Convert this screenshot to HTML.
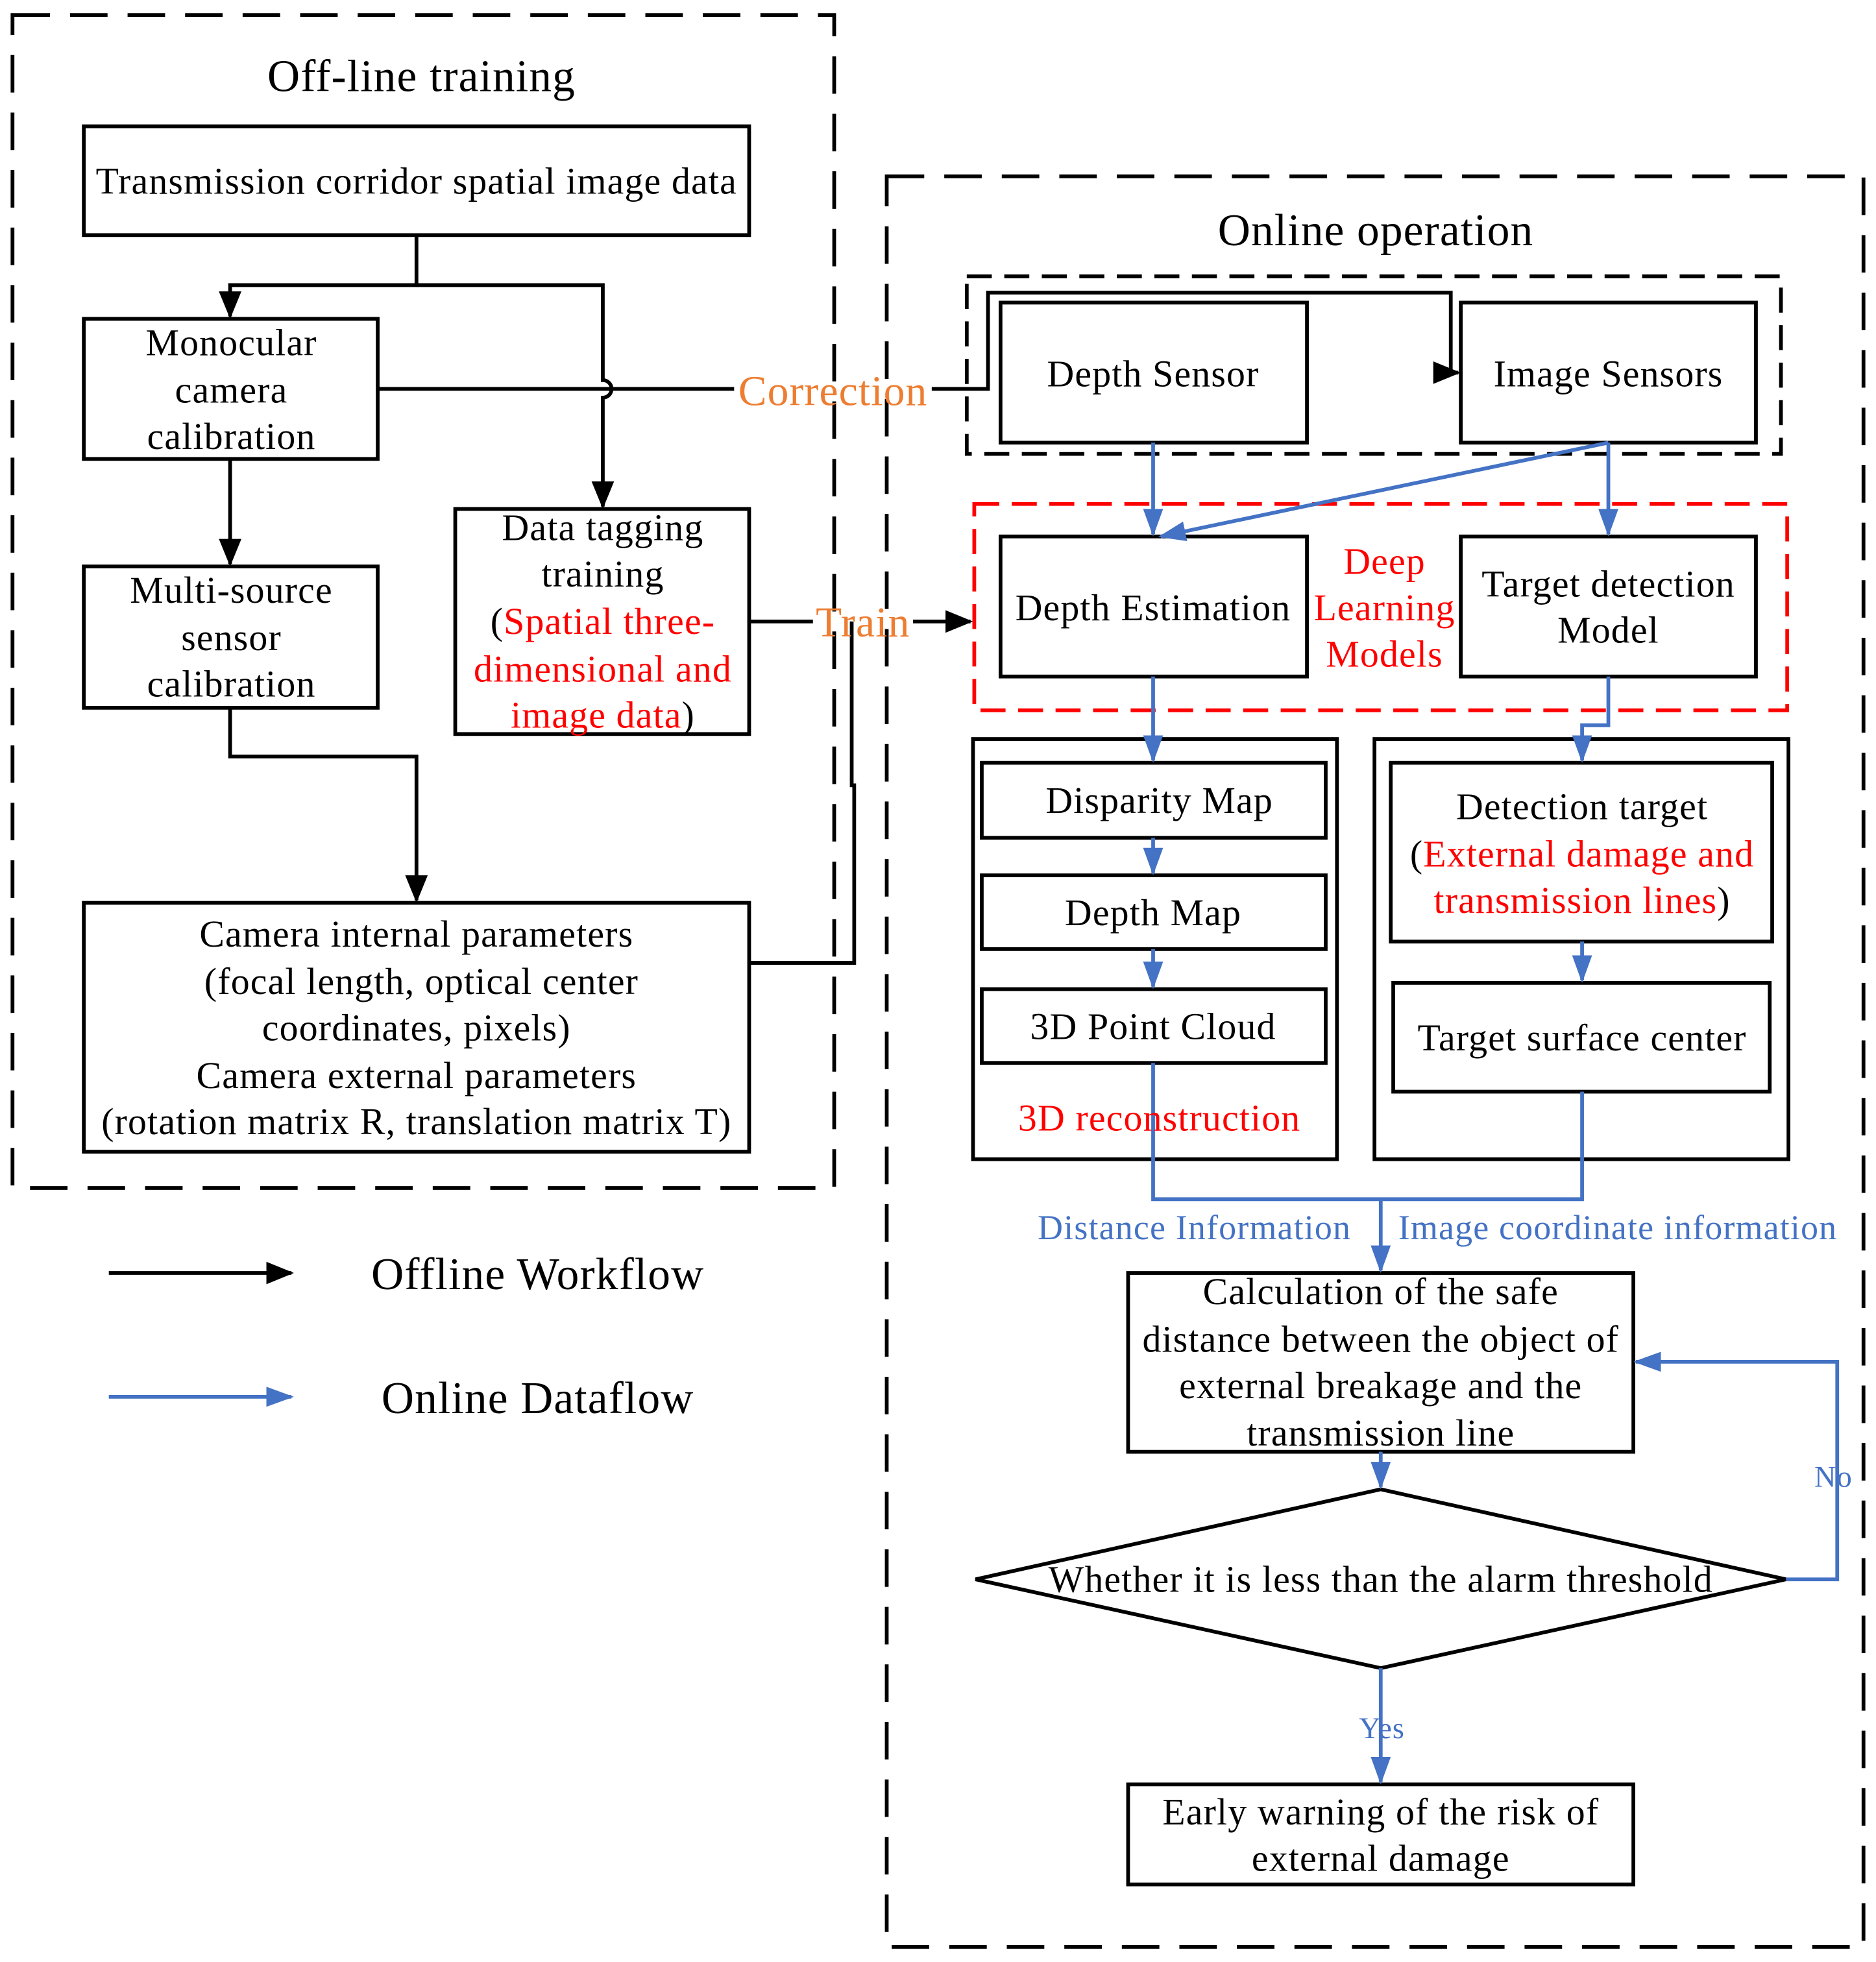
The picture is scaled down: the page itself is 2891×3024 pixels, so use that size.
<!DOCTYPE html>
<html><head><meta charset="utf-8"><style>html,body{margin:0;padding:0;background:#fff}svg{display:block}</style></head>
<body>
<svg width="2891" height="3024" viewBox="0 0 1500 1569" preserveAspectRatio="none" xmlns="http://www.w3.org/2000/svg" font-family="Liberation Serif, serif">
<defs>
<marker id="akb" markerWidth="22" markerHeight="22" refX="20" refY="11" orient="auto" markerUnits="userSpaceOnUse" viewBox="0 0 22 22"><path d="M0,2 L22,11 L0,20 z" fill="#000"/></marker>
<marker id="ab" markerWidth="22" markerHeight="22" refX="20" refY="11" orient="auto" markerUnits="userSpaceOnUse" viewBox="0 0 22 22"><path d="M0,3 L22,11 L0,19 z" fill="#4472C4"/></marker>
</defs>
<g fill="none" stroke="#000" stroke-width="3">
<rect x="10" y="12" width="657" height="938" stroke-dasharray="30,16"/>
<rect x="709" y="141" width="781" height="1416" stroke-dasharray="30,16"/>
<rect x="773" y="221" width="651" height="142" stroke-dasharray="20,10"/>
<rect x="779" y="403" width="650" height="165" stroke="#FF0000" stroke-dasharray="20,10"/>
<rect x="67" y="101" width="532" height="87"/>
<rect x="67" y="255" width="235" height="112"/>
<rect x="67" y="453" width="235" height="113"/>
<rect x="364" y="407" width="235" height="180"/>
<rect x="67" y="722" width="532" height="199"/>
<rect x="800" y="242" width="245" height="112"/>
<rect x="1168" y="242" width="236" height="112"/>
<rect x="800" y="429" width="245" height="112"/>
<rect x="1168" y="429" width="236" height="112"/>
<rect x="778" y="591" width="291" height="336"/>
<rect x="785" y="610" width="275" height="60"/>
<rect x="785" y="700" width="275" height="59"/>
<rect x="785" y="791" width="275" height="59"/>
<rect x="1099" y="591" width="331" height="336"/>
<rect x="1112" y="610" width="305" height="143"/>
<rect x="1114" y="786" width="301" height="87"/>
<rect x="902" y="1018" width="404" height="143"/>
<polygon points="780,1263 1104,1191 1428,1263 1104,1334"/>
<rect x="902" y="1427" width="404" height="80"/>
<path d="M333,188 V228 H184 V253" marker-end="url(#akb)"/>
<path d="M333,228 H482 V304 A7,7 0 0 1 482,318 V405" marker-end="url(#akb)"/>
<path d="M302,311 H587"/>
<path d="M745,311 H790 V234 H1160 V298 H1166" marker-end="url(#akb)"/>
<path d="M184,367 V451" marker-end="url(#akb)"/>
<path d="M184,566 V605 H333 V720" marker-end="url(#akb)"/>
<path d="M599,497 H650"/>
<path d="M730,497 H776" marker-end="url(#akb)"/>
<path d="M599,770 H683 V628 H681 V497"/>
<path d="M87,1018 H233" marker-end="url(#akb)"/>
</g>
<g fill="none" stroke="#4472C4" stroke-width="3">
<path d="M922,354 V427" marker-end="url(#ab)"/>
<path d="M1286,354 V427" marker-end="url(#ab)"/>
<path d="M1286,354 L928,429" marker-end="url(#ab)"/>
<path d="M922,541 V608" marker-end="url(#ab)"/>
<path d="M922,670 V698" marker-end="url(#ab)"/>
<path d="M922,759 V789" marker-end="url(#ab)"/>
<path d="M1286,541 V580 H1265 V608" marker-end="url(#ab)"/>
<path d="M1265,753 V784" marker-end="url(#ab)"/>
<path d="M922,850 V959 H1265 V873"/>
<path d="M1104,959 V1016" marker-end="url(#ab)"/>
<path d="M1104,1161 V1189" marker-end="url(#ab)"/>
<path d="M1428,1263 H1469 V1089 H1308" marker-end="url(#ab)"/>
<path d="M1104,1334 V1425" marker-end="url(#ab)"/>
<path d="M87,1117 H233" marker-end="url(#ab)"/>
</g>
<g font-size="30" text-anchor="middle" fill="#000" letter-spacing="0.6">
<text x="337" y="73" font-size="36">Off-line training</text>
<text x="1100" y="196" font-size="36">Online operation</text>
<text x="333" y="155">Transmission corridor spatial image data</text>
<text x="185" y="284">Monocular</text><text x="185" y="322">camera</text><text x="185" y="359">calibration</text>
<text x="185" y="482">Multi-source</text><text x="185" y="520">sensor</text><text x="185" y="557">calibration</text>
<text x="482" y="432">Data tagging</text><text x="482" y="469">training</text>
<text x="482" y="507"><tspan>(</tspan><tspan fill="#FF0000">Spatial three-</tspan></text>
<text x="482" y="545" fill="#FF0000">dimensional and</text>
<text x="482" y="582"><tspan fill="#FF0000">image data</tspan><tspan>)</tspan></text>
<text x="333" y="757">Camera internal parameters</text>
<text x="337" y="795">(focal length, optical center</text>
<text x="333" y="832">coordinates, pixels)</text>
<text x="333" y="870">Camera external parameters</text>
<text x="333" y="907">(rotation matrix R, translation matrix T)</text>
<text x="922" y="309">Depth Sensor</text>
<text x="1286" y="309">Image Sensors</text>
<text x="922" y="496">Depth Estimation</text>
<text x="1286" y="477">Target detection</text><text x="1286" y="514">Model</text>
<g fill="#FF0000"><text x="1107" y="459">Deep</text><text x="1107" y="496">Learning</text><text x="1107" y="533">Models</text>
<text x="927" y="904">3D reconstruction</text></g>
<text x="927" y="650">Disparity Map</text>
<text x="922" y="740">Depth Map</text>
<text x="922" y="831">3D  Point Cloud</text>
<text x="1265" y="655">Detection target</text>
<text x="1265" y="693"><tspan>(</tspan><tspan fill="#FF0000">External damage and</tspan></text>
<text x="1265" y="730"><tspan fill="#FF0000">transmission lines</tspan><tspan>)</tspan></text>
<text x="1265" y="840">Target surface center</text>
<text x="1104" y="1043">Calculation of the safe</text>
<text x="1104" y="1081">distance between the object of</text>
<text x="1104" y="1118">external breakage and the</text>
<text x="1104" y="1156">transmission line</text>
<text x="1104" y="1273">Whether it is less than the alarm threshold</text>
<text x="1104" y="1459">Early warning of the risk of</text>
<text x="1104" y="1496">external damage</text>
<g fill="#ED7D31" font-size="34"><text x="666" y="324">Correction</text><text x="690" y="509">Train</text></g>
<g fill="#4472C4" font-size="28"><text x="955" y="991">Distance Information</text>
<text x="1118" y="991" text-anchor="start">Image coordinate information</text>
<text x="1466" y="1189" font-size="24">No</text><text x="1105" y="1390" font-size="24">Yes</text></g>
<text x="430" y="1031" font-size="36">Offline Workflow</text>
<text x="430" y="1130" font-size="36">Online Dataflow</text>
</g>
</svg>
</body></html>
